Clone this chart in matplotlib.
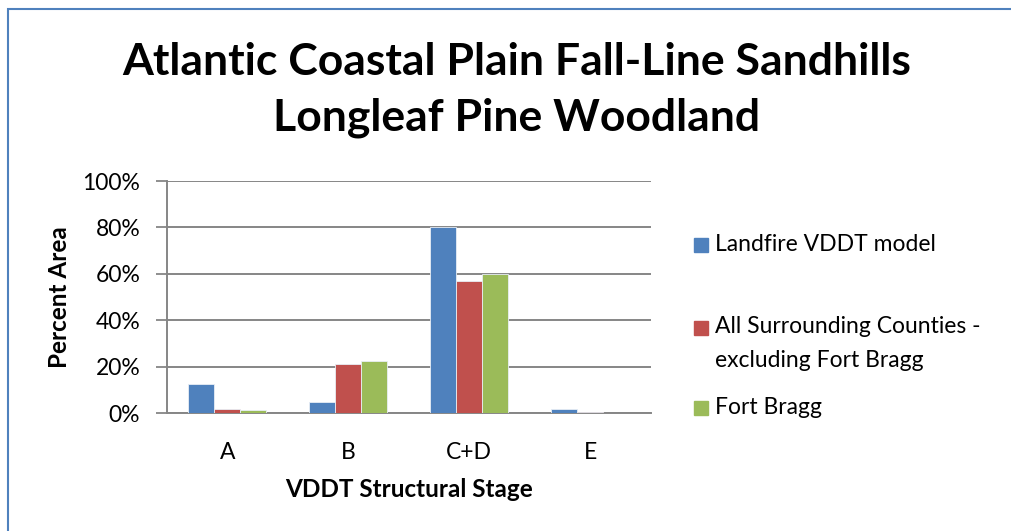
import matplotlib
matplotlib.use("Agg")
import matplotlib.pyplot as plt
from matplotlib.patches import Rectangle
import numpy as np

categories = ["A", "B", "C+D", "E"]
series_names = ["Landfire VDDT model",
                "All Surrounding Counties -\nexcluding Fort Bragg",
                "Fort Bragg"]
landfire = [12.7, 4.8, 80.0, 1.6]
surrounding = [1.7, 21.2, 57.0, 0.3]
fort_bragg = [1.2, 22.4, 60.0, 0.2]
colors = ["#4F81BD", "#C0504D", "#9BBB59"]
yticks = [0, 20, 40, 60, 80, 100]

plt.rcParams['font.family'] = ['Lato', 'DejaVu Sans']

W, H = 1011, 531
fig = plt.figure(figsize=(W / 100, H / 100), dpi=100)
ax = fig.add_axes([166.7 / W, 1 - 413 / H, 484 / W, 232 / H])

x = np.arange(len(categories))
width = 0.215
data = [landfire, surrounding, fort_bragg]
for i, (vals, c) in enumerate(zip(data, colors)):
    ax.bar(x + (i - 1) * width, vals, width, color=c, edgecolor="#e8eef5",
           linewidth=0.6, zorder=3)

ax.set_xlim(-0.5, len(categories) - 0.5)
ax.set_ylim(0, 100)
ax.set_yticks(yticks)
ax.set_yticklabels([f"{v}%" for v in yticks], fontsize=16.5)
ax.set_xticks(x)
ax.set_xticklabels(categories, fontsize=16.5)
ax.tick_params(axis='x', length=0, pad=21)
ax.tick_params(axis='y', length=8, width=1.3, color="#868686", pad=11)
ax.grid(axis='y', color="#868686", linewidth=1.4, zorder=0)
for s in ["top", "right"]:
    ax.spines[s].set_visible(False)
ax.spines["left"].set_color("#868686")
ax.spines["left"].set_linewidth(1.4)
ax.spines["bottom"].set_color("#868686")
ax.spines["bottom"].set_linewidth(1.4)
ax.set_xlabel("VDDT Structural Stage", fontsize=17.5, fontweight="bold", labelpad=11)
ax.set_ylabel("Percent Area", fontsize=17.5, fontweight="bold", labelpad=8)

fig.text(516.5 / W, 1 - 62 / H, "Atlantic Coastal Plain Fall-Line Sandhills",
         ha="center", va="center", fontsize=32, fontweight="bold")
fig.text(516.5 / W, 1 - 118 / H, "Longleaf Pine Woodland",
         ha="center", va="center", fontsize=32, fontweight="bold")

# legend
leg_y = [245, 328, 408]
for name, c, yy in zip(series_names, colors, leg_y):
    fig.patches.append(Rectangle((694 / W, 1 - (yy + 7) / H), 14 / W, 14 / H,
                                 transform=fig.transFigure, color=c))
    if "\n" in name:
        fig.text(715 / W, 1 - (yy - 12) / H, name, ha="left", va="top",
                 fontsize=16.5, linespacing=1.75)
    else:
        fig.text(715 / W, 1 - yy / H, name, ha="left", va="center", fontsize=16.5)

# chart frame
fig.patches.append(Rectangle((8 / W, -0.05), 1.1, 1 - 9 / H + 0.05,
                             transform=fig.transFigure, fill=False,
                             edgecolor="#4F81BD", linewidth=1.5))

fig.savefig("out.png", dpi=100)
